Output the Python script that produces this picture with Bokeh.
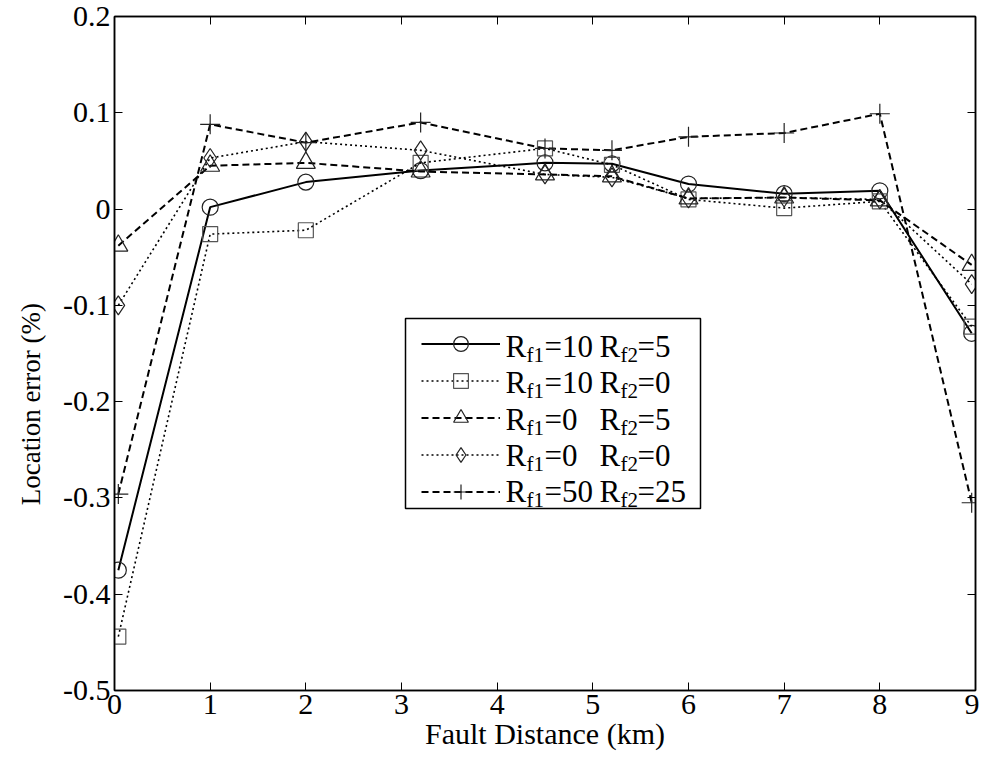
import numpy as np
from bokeh.plotting import figure
from bokeh.models import (Range1d, LinearAxis, FixedTicker, CustomJSTickFormatter,
                          Legend, LegendItem, Label, BoxAnnotation)
from bokeh.embed import file_html
from bokeh.resources import INLINE

# ---------------- data ----------------
fault_km = [0.04, 1, 2, 3.2, 4.5, 5.2, 6, 7, 8, 8.96]
err_rf1_10_rf2_5 = [-0.375, 0.002, 0.028, 0.040, 0.048, 0.047, 0.026, 0.016, 0.019, -0.129]
err_rf1_10_rf2_0 = [-0.444, -0.026, -0.022, 0.048, 0.063, 0.046, 0.010, 0.001, 0.008, -0.122]
err_rf1_0_rf2_5 = [-0.038, 0.045, 0.048, 0.039, 0.036, 0.034, 0.011, 0.012, 0.009, -0.058]
err_rf1_0_rf2_0 = [-0.100, 0.053, 0.070, 0.061, 0.036, 0.033, 0.011, 0.012, 0.010, -0.078]
err_rf1_50_rf2_25 = [-0.296, 0.088, 0.069, 0.090, 0.063, 0.061, 0.075, 0.079, 0.099, -0.305]
rf1_labels = ["10", "10", "0", "0", "50"]
rf2_labels = ["5", "0", "5", "0", "25"]
x_ticks = [0, 1, 2, 3, 4, 5, 6, 7, 8, 9]
y_ticks = [-0.5, -0.4, -0.3, -0.2, -0.1, 0.0, 0.1, 0.2]

# ---------------- layout ----------------
FONT = "Liberation Serif"
W, H = 979, 762
BL, BR, BT, BB = 114, 4, 16, 72
FL, FR, FT, FB = BL, W - BR, BT, H - BB   # frame edges in picture pixels


def px2x(px):
    return (px - FL) / (FR - FL) * 9.0


def px2y(py):
    return 0.2 - (py - FT) / (FB - FT) * 0.7


p = figure(width=W, height=H, x_range=Range1d(0, 9), y_range=Range1d(-0.5, 0.2),
           output_backend="svg", toolbar_location=None,
           min_border_left=BL, min_border_right=BR, min_border_top=BT, min_border_bottom=BB)
p.xgrid.visible = False
p.ygrid.visible = False
p.outline_line_color = "black"
p.outline_line_width = 1.5
p.background_fill_color = "white"
p.border_fill_color = "white"

ytick_fmt = CustomJSTickFormatter(code="const v = Math.round(tick*10)/10; return (v === 0) ? '0' : v.toFixed(1);")
blank_fmt = CustomJSTickFormatter(code="return '';")

for ax in [p.xaxis[0], p.yaxis[0]]:
    ax.axis_line_color = "black"
    ax.axis_line_width = 1.5
    ax.major_tick_in = 8
    ax.major_tick_out = 0
    ax.minor_tick_line_color = None
    ax.major_tick_line_color = "black"
    ax.major_label_text_font = FONT
    ax.major_label_text_font_size = "30px"
    ax.major_label_text_color = "black"
    ax.axis_label_text_font = FONT
    ax.axis_label_text_font_style = "normal"
    ax.axis_label_text_color = "black"

p.xaxis[0].ticker = FixedTicker(ticks=x_ticks)
p.xaxis[0].axis_label = "Fault Distance (km)"
p.xaxis[0].axis_label_text_font_size = "30px"
p.xaxis[0].major_label_standoff = 4
p.xaxis[0].axis_label_standoff = 0

p.yaxis[0].ticker = FixedTicker(ticks=y_ticks)
p.yaxis[0].formatter = ytick_fmt
p.yaxis[0].axis_label = "Location error (%)" + "\u00a0" * 15
p.yaxis[0].axis_label_text_font_size = "27px"
p.yaxis[0].major_label_standoff = 4
p.yaxis[0].axis_label_standoff = 14

top_ax = LinearAxis(ticker=FixedTicker(ticks=x_ticks), formatter=blank_fmt)
right_ax = LinearAxis(ticker=FixedTicker(ticks=y_ticks), formatter=blank_fmt)
for ax in [top_ax, right_ax]:
    ax.axis_line_color = "black"
    ax.axis_line_width = 1.5
    ax.major_tick_in = 8
    ax.major_tick_out = 0
    ax.minor_tick_line_color = None
    ax.major_label_standoff = 0
    ax.major_label_text_font_size = "1px"
p.add_layout(top_ax, "above")
p.add_layout(right_ax, "right")

series = [
    (err_rf1_10_rf2_5, "circle", "solid", 2.0, 16, "#222222"),
    (err_rf1_10_rf2_0, "square", "2 3", 1.6, 15, "#555555"),
    (err_rf1_0_rf2_5, "triangle", "7 4", 2.0, 19, "#222222"),
    (err_rf1_0_rf2_0, "diamond", "2 3", 1.6, 19, "#222222"),
    (err_rf1_50_rf2_25, "cross", "7 4", 2.0, 20, "#222222"),
]

items = []
for ys, marker, dash, lw, size, mcol in series:
    lr = p.line(fault_km, ys, line_color="black", line_width=lw, line_dash=dash)
    sr = p.scatter(fault_km, ys, marker=marker, size=size, fill_color=None,
                   line_color=mcol, line_width=1.2)
    items.append(LegendItem(label="\u00a0", renderers=[lr, sr]))

# legend frame
box = BoxAnnotation(left=px2x(405), right=px2x(700), top=px2y(318), bottom=px2y(508),
                    fill_color="white", fill_alpha=1.0, line_color="black", line_alpha=1.0,
                    line_width=1.5, level="annotation")
p.add_layout(box)

legend = Legend(items=items, location=(421 - FL, FB - 510), orientation="vertical",
                glyph_width=79, glyph_height=37, spacing=0, padding=0, margin=0,
                border_line_alpha=0, background_fill_alpha=0, label_standoff=0,
                label_width=0, label_height=10, label_text_font_size="10px")
p.add_layout(legend, "center")

MAIN, SUB = "31px", "21px"
for i, (a, b) in enumerate(zip(rf1_labels, rf2_labels)):
    base = 356.5 + 36.3 * i          # baseline of the row's main text
    ym = base - 10.5                 # visual middle of main text
    ys_ = base + 5 - 7.1             # visual middle of subscript
    pieces = [("R", 505, ym, MAIN), ("f1", 526, ys_, SUB), ("=" + a, 544, ym, MAIN),
              ("R", 599, ym, MAIN), ("f2", 620, ys_, SUB), ("=" + b, 637, ym, MAIN)]
    for txt, xx, yy, fs in pieces:
        p.add_layout(Label(x=px2x(xx), y=px2y(yy), text=txt, text_font=FONT,
                           text_font_size=fs, text_color="black",
                           text_baseline="middle", text_align="left"))

open("out.html", "w").write(file_html(p, INLINE))
